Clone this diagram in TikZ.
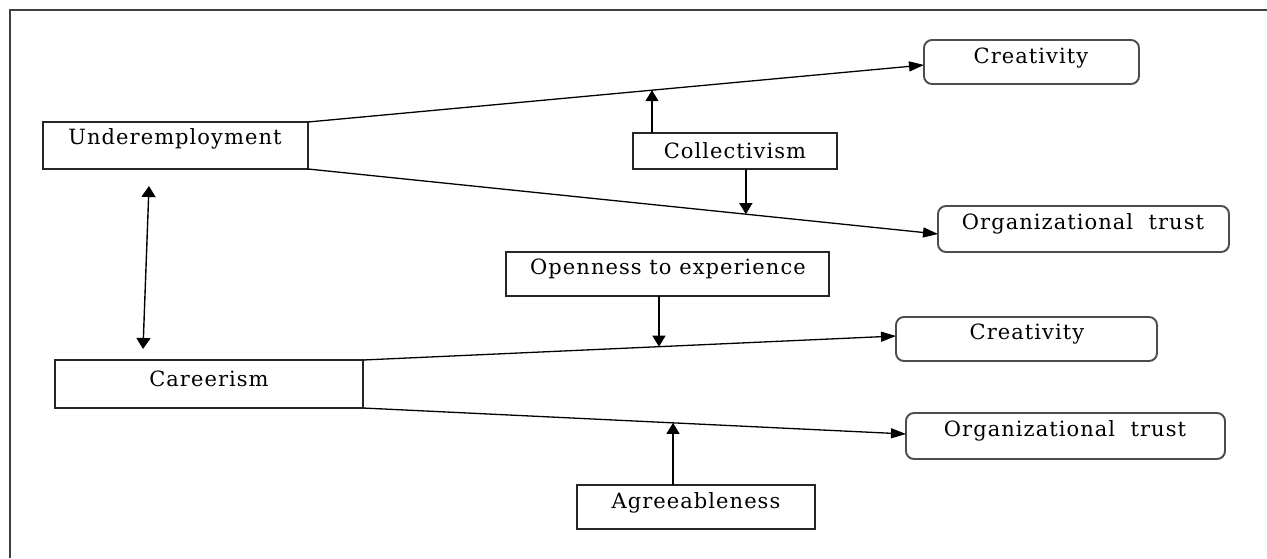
\documentclass[tikz,border=0pt]{standalone}
\usepackage{fontspec}
\setmainfont[LetterSpace=5]{DejaVu Serif}
\usetikzlibrary{arrows.meta,calc}
\begin{document}
\begin{tikzpicture}[x=1pt,y=-1pt,
  box/.style={draw=black!85, line width=1.4pt, inner sep=0pt, outer sep=0pt},
  rbox/.style={draw=black!70, line width=1.9pt, rounded corners=8pt, inner sep=0pt, outer sep=0pt},
  txt/.style={inner sep=0pt, font=\fontsize{21}{24}\selectfont},
  link/.style={line width=1.3pt, -{Triangle[length=15pt,width=10pt]}},
  mod/.style={line width=1.4pt, -{Triangle[length=11pt,width=13pt]}},
  dbl/.style={line width=1.4pt, {Triangle[length=11pt,width=14pt]}-{Triangle[length=11pt,width=14pt]}}]
\useasboundingbox (0,0) rectangle (1267,558);
\fill[white] (0,0) rectangle (1267,558);
% frame
\draw[black!75, line width=2pt] (10,558) -- (10,10) -- (1267,10);
% boxes
\node[box, minimum width=265pt, minimum height=47pt] (u) at (175.5,145.5) {};
\node[box, minimum width=308pt, minimum height=48pt] (k) at (209,384) {};
\node[box, minimum width=204pt, minimum height=36pt] (col) at (735,151) {};
\node[box, minimum width=323pt, minimum height=44pt] (op) at (667.5,274) {};
\node[box, minimum width=238pt, minimum height=44pt] (ag) at (696,507) {};
\node[rbox, minimum width=215pt, minimum height=44pt] (c1) at (1031.5,62) {};
\node[rbox, minimum width=291pt, minimum height=46pt] (o1) at (1083.5,229) {};
\node[rbox, minimum width=261pt, minimum height=44pt] (c2) at (1026.5,339) {};
\node[rbox, minimum width=319pt, minimum height=46pt] (o2) at (1065.5,436) {};
% texts
\node[txt] (tu) at (175,139) {Underemployment};
\node[txt] (tk) at (209,379) {Careerism};
\node[txt] (tcol) at (735,151) {Collectivism};
\node[txt] (top) at (668,269) {Openness to experience};
\node[txt] (tag) at (696,503) {Agreeableness};
\node[txt] (tc1) at (1031,58) {Creativity};
\node[txt] (to1) at (1083,224) {Organizational\ \ trust};
\node[txt] (tc2) at (1027,334) {Creativity};
\node[txt] (to2) at (1065,431) {Organizational\ \ trust};
% main paths
\draw[link] (u.north east) -- ([yshift=-3pt]c1.west);
\draw[link] (u.south east) -- ([yshift=-5pt]o1.west);
\draw[link] (k.north east) -- ([yshift=3pt]c2.west);
\draw[link] (k.south east) -- ([yshift=2pt]o2.west);
% moderator targets
\coordinate (m1) at ($(u.north east)!0.5584!([yshift=-3pt]c1.west)$);
\coordinate (m2) at ($(u.south east)!0.695!([yshift=-5pt]o1.west)$);
\coordinate (m3) at ($(k.north east)!0.5553!([yshift=3pt]c2.west)$);
\coordinate (m4) at ($(k.south east)!0.5709!([yshift=2pt]o2.west)$);
\draw[mod] (m1 |- col.north) -- (m1);
\draw[mod] (m2 |- col.south) -- (m2);
\draw[mod] (m3 |- op.south) -- (m3);
\draw[mod] (m4 |- ag.north) -- (m4);
% double arrow
\coordinate (d1) at (149,186);
\coordinate (d2) at (143,349);
\draw[dbl] (d1) -- (d2);
\end{tikzpicture}
\end{document}
